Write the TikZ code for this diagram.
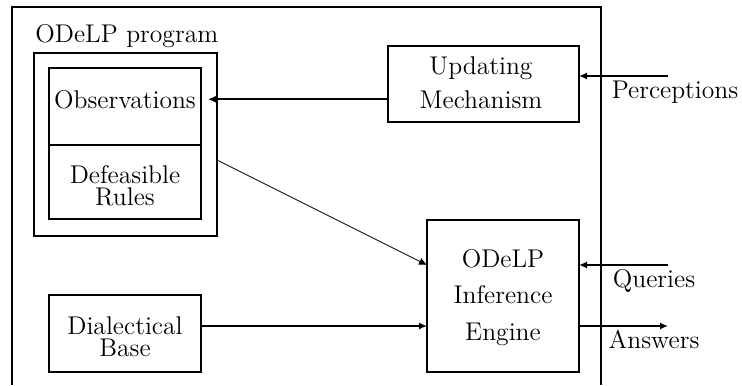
\documentclass[tikz,border=0pt]{standalone}
\usetikzlibrary{arrows.meta}
\begin{document}
\begin{tikzpicture}[x=0.5pt,y=-0.5pt,
  box/.style={draw,line width=1pt,inner sep=0pt,outer sep=0pt},
  txt/.style={inner sep=0pt,anchor=base,font=\fontsize{12.8}{15}\selectfont},
  mtxt/.style={inner sep=0pt,anchor=center,align=center,font=\fontsize{12.8}{#1}\selectfont},
  arr/.style={line width=1pt,-{Latex[length=4pt,width=3.6pt]}},
  thinarr/.style={line width=0.4pt,-{Latex[length=4pt,width=3.6pt]}}]
\useasboundingbox (0,0) rectangle (742,385);
% outer frame, open at the bottom
\draw[line width=1pt] (12,385) -- (12,7) -- (601,7) -- (601,385);
% boxes
\node[box,minimum width=91.5pt,minimum height=91.5pt] (prog) at (125.5,144.5) {};
\node[box,minimum width=76pt,minimum height=38.5pt] (obs) at (125,106.5) {};
\node[box,minimum width=76pt,minimum height=37pt] (def) at (125,182) {};
\node[box,minimum width=95.5pt,minimum height=38pt] (upd) at (483.5,84) {};
\node[box,minimum width=76pt,minimum height=76pt] (inf) at (503,296) {};
\node[box,minimum width=76pt,minimum height=38.5pt] (dia) at (125,333.5) {};
% texts
\node[txt,anchor=base west] (progl) at (35,43) {ODeLP program};
\node[txt] (obst) at (125,108) {Observations};
\node[mtxt=11pt] (deft) at (125,185.5) {Defeasible\\Rules};
\node[mtxt=17pt] (updt) at (481,82.5) {Updating\\Mechanism};
\node[mtxt=18.25pt] (inft) at (503,297.5) {ODeLP\\Inference\\Engine};
\node[mtxt=11pt] (diat) at (125,337) {Dialectical\\Base};
\node[txt] (perc) at (675,98) {Perceptions};
\node[txt] (quer) at (654,287) {Queries};
\node[txt] (answ) at (654,348) {Answers};
% free ends
\coordinate (pin) at (668,76);
\coordinate (qin) at (668,265);
\coordinate (aout) at (668,326);
\coordinate (dstart) at (217,160);
\coordinate (dend) at (427,265);
% connectors
\draw[arr] (upd.west |- obst.center) -- ([xshift=3.5pt]obs.east |- obst.center);
\draw[arr] (pin) -- (upd.east |- pin);
\draw[arr] (qin) -- (inf.east |- qin);
\draw[arr] (inf.east |- aout) -- (aout);
\draw[arr] (dia.east |- aout) -- (inf.west |- aout);
\draw[thinarr] (dstart) -- (dend);
\end{tikzpicture}
\end{document}
